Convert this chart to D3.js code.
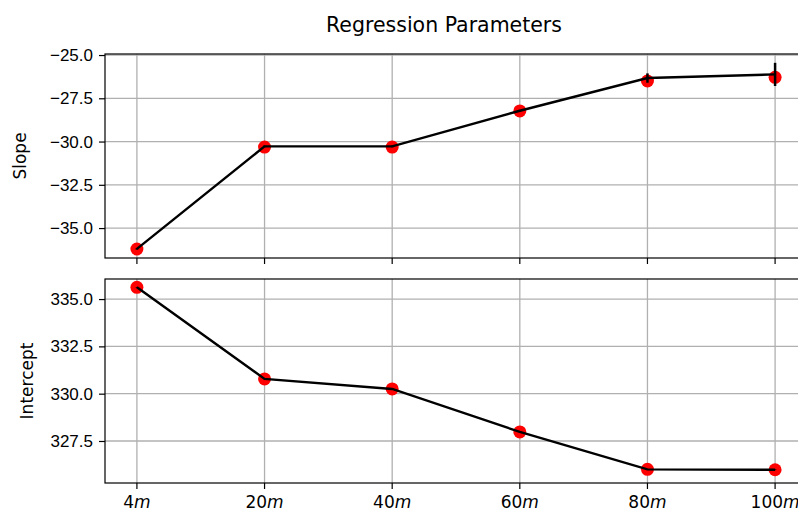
<!DOCTYPE html>
<html>
<head>
<meta charset="utf-8">
<script src="https://cdn.jsdelivr.net/npm/d3@7"></script>
<style>
  body { margin: 0; background: #fff; }
  svg { font-family: "DejaVu Sans", sans-serif; }
</style>
</head>
<body>
<svg width="798" height="511"></svg>
<script>
// distances (x categories)
const distances = ["4", "20", "40", "60", "80", "100"];

// slope: errorbar line, its error, and the red points
const slopeLine = [-36.2, -30.28, -30.28, -28.22, -26.33, -26.12];
const slopeErr = [0.05, 0.05, 0.05, 0.05, 0.27, 0.67];
const slopePts = [-36.21, -30.32, -30.32, -28.23, -26.5, -26.29];
const slopeTicks = [-35.0, -32.5, -30.0, -27.5, -25.0];

// intercept
const interLine = [335.62, 330.78, 330.25, 327.98, 326.0, 325.98];
const interErr = [0.02, 0.02, 0.02, 0.02, 0.02, 0.02];
const interPts = [335.62, 330.78, 330.25, 327.98, 326.0, 325.98];
const interTicks = [327.5, 330.0, 332.5, 335.0];

const svg = d3.select("svg");
const left = 105, right = 807;
const gridColor = "#b0b0b0";

const x = d3.scaleLinear().domain([-0.25, 5.25]).range([left, right]);

// title
svg.append("text")
    .attr("x", 444)
    .attr("y", 32)
    .attr("text-anchor", "middle")
    .style("font-size", "20.5px")
    .text("Regression Parameters");

const panel = function (top, bottom, domain, ticks, lineVals, errVals, ptVals, label, labelX, showX) {
    const y = d3.scaleLinear().domain(domain).range([bottom, top]);
    const g = svg.append("g");

    // grid
    g.selectAll(".gx").data(distances).enter().append("line")
        .attr("x1", (d, i) => x(i)).attr("x2", (d, i) => x(i))
        .attr("y1", top).attr("y2", bottom)
        .attr("stroke", gridColor).attr("stroke-width", 1.3);
    g.selectAll(".gy").data(ticks).enter().append("line")
        .attr("x1", left).attr("x2", right)
        .attr("y1", d => y(d)).attr("y2", d => y(d))
        .attr("stroke", gridColor).attr("stroke-width", 1.3);

    // red points
    g.selectAll("circle").data(ptVals).enter().append("circle")
        .attr("cx", (d, i) => x(i))
        .attr("cy", d => y(d))
        .attr("r", 6.5)
        .attr("fill", "red");

    // error bars
    g.selectAll(".err").data(lineVals).enter().append("line")
        .attr("x1", (d, i) => x(i)).attr("x2", (d, i) => x(i))
        .attr("y1", (d, i) => y(d - errVals[i]))
        .attr("y2", (d, i) => y(d + errVals[i]))
        .attr("stroke", "black").attr("stroke-width", 2.5);

    // line
    const line = d3.line().x((d, i) => x(i)).y(d => y(d));
    g.append("path")
        .datum(lineVals)
        .attr("d", line)
        .attr("fill", "none")
        .attr("stroke", "black")
        .attr("stroke-width", 2.4);

    // y axis
    const yAxis = d3.axisLeft(y).tickValues(ticks).tickSize(6).tickPadding(6)
        .tickFormat(d3.format(".1f"));
    const ya = g.append("g").attr("transform", "translate(" + left + ",0)").call(yAxis);
    ya.select(".domain").remove();
    ya.selectAll("text").style("font-size", "17px").attr("fill", "#000")
        .text(d => d3.format(".1f")(d).replace("-", "\u2212"));
    ya.selectAll("line").attr("stroke", "#000").attr("stroke-width", 1.2);

    // x ticks
    const xt = g.append("g");
    xt.selectAll("line").data(distances).enter().append("line")
        .attr("x1", (d, i) => x(i)).attr("x2", (d, i) => x(i))
        .attr("y1", bottom).attr("y2", bottom + 6)
        .attr("stroke", "#000").attr("stroke-width", 1.2);
    if (showX) {
        const lab = xt.selectAll("text").data(distances).enter().append("text")
            .attr("x", (d, i) => x(i))
            .attr("y", bottom + 25)
            .attr("text-anchor", "middle")
            .style("font-size", "17px");
        lab.append("tspan").text(d => d);
        lab.append("tspan").style("font-style", "italic").text("m");
    }

    // frame
    g.append("rect")
        .attr("x", left).attr("y", top)
        .attr("width", right - left).attr("height", bottom - top)
        .attr("fill", "none").attr("stroke", "#000").attr("stroke-width", 1.2);

    // y label
    svg.append("text")
        .attr("transform", "translate(" + labelX + "," + ((top + bottom) / 2) + ") rotate(-90)")
        .attr("text-anchor", "middle")
        .style("font-size", "17px")
        .text(label);
};

panel(54, 258, [-36.73, -24.94], slopeTicks, slopeLine, slopeErr, slopePts, "Slope", 26, false);
panel(279, 483, [325.28, 336.06], interTicks, interLine, interErr, interPts, "Intercept", 33, true);
</script>
</body>
</html>
